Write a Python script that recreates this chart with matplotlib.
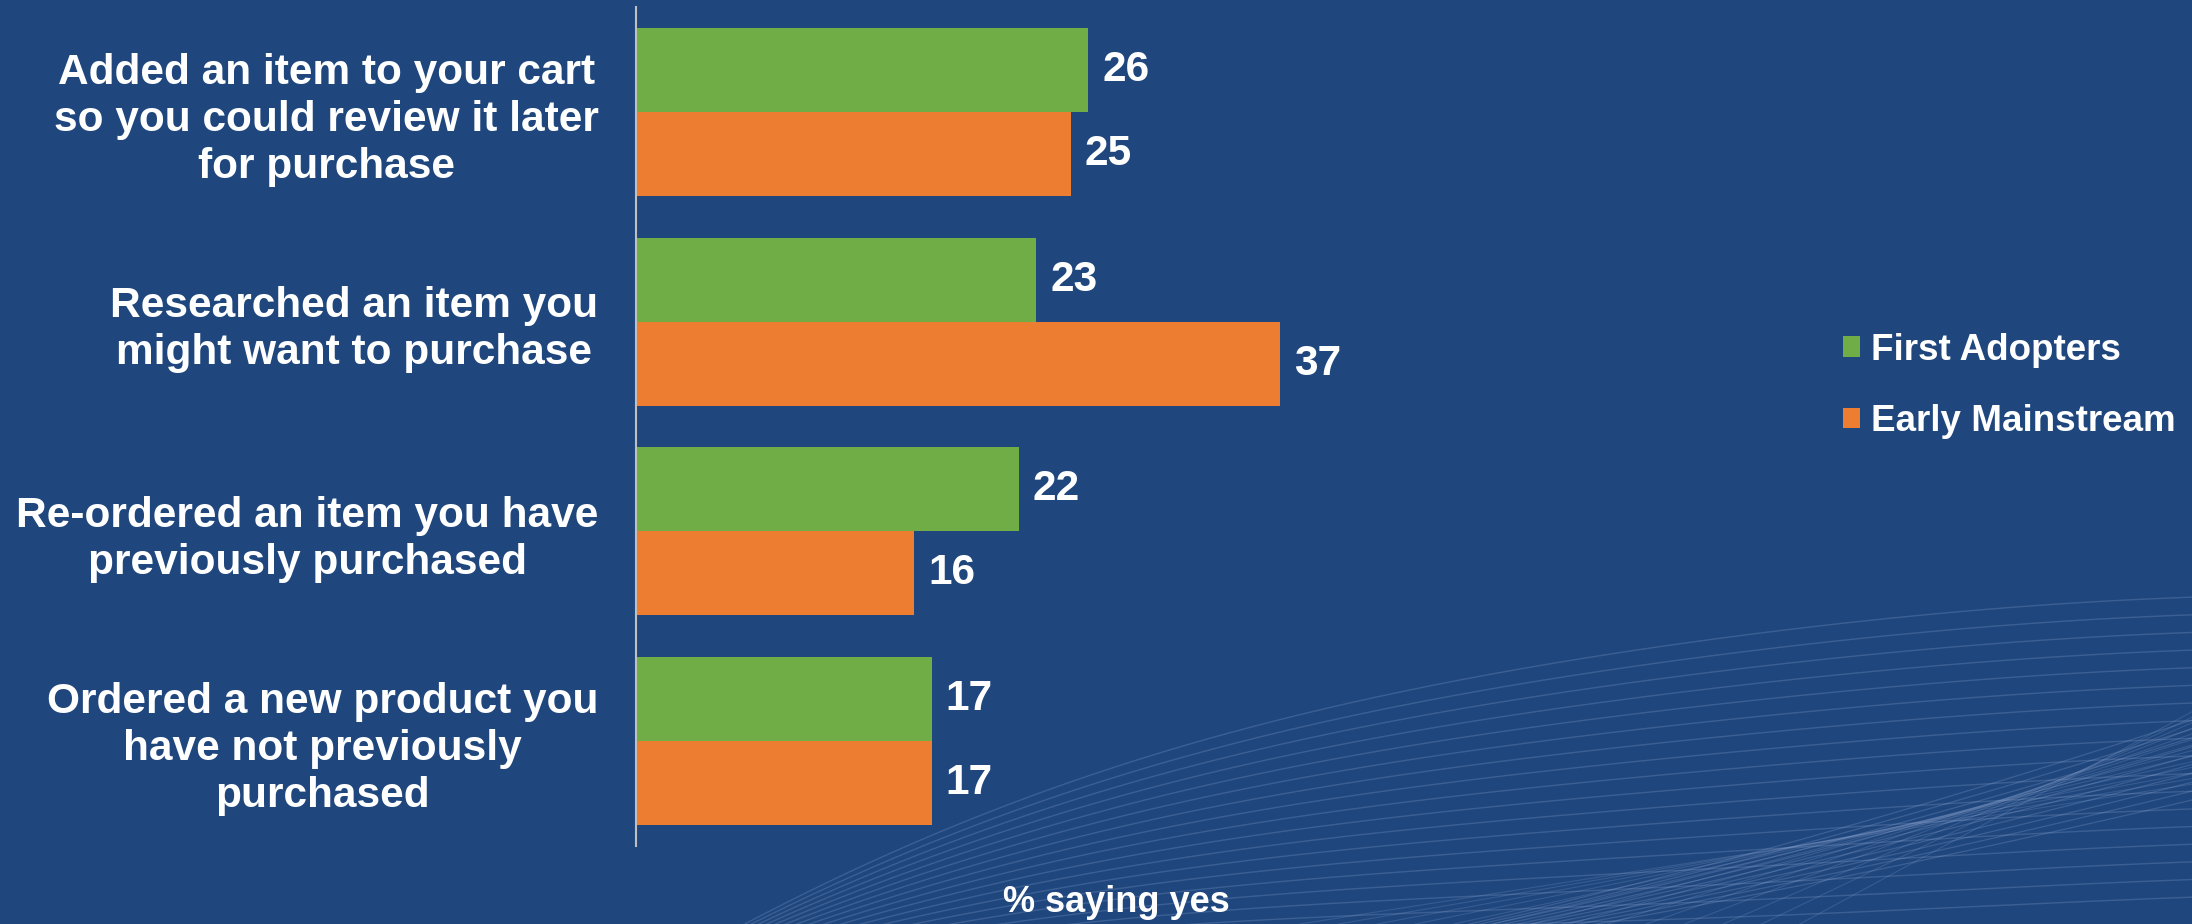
import numpy as np
import matplotlib
matplotlib.use('Agg')
import matplotlib.pyplot as plt
from matplotlib.patches import Patch

categories = [
    'Added an item to your cart\nso you could review it later\nfor purchase',
    'Researched an item you\nmight want to purchase',
    'Re-ordered an item you have\npreviously purchased',
    'Ordered a new product you\nhave not previously\npurchased',
]
first_adopters = [26, 23, 22, 17]
early_mainstream = [25, 37, 16, 17]
series_names = ['First Adopters', 'Early Mainstream']

BG = '#1f477e'
GREEN = '#70ad47'
ORANGE = '#ed7d31'

plt.rcParams['font.family'] = ['Liberation Sans', 'DejaVu Sans']
plt.rcParams['font.weight'] = 'bold'

fig = plt.figure(figsize=(21.92, 9.24), dpi=100)
fig.patch.set_facecolor(BG)

# decorative background curves (pixel coords, y down)
bg = fig.add_axes([0, 0, 1, 1], zorder=0)
bg.set_xlim(0, 2192)
bg.set_ylim(924, 0)
bg.axis('off')
x = np.linspace(500, 2192, 400)
s = np.clip((x - 600) / 1592, 0, 1)
for yr in np.linspace(600, 900, 18):
    y = 1010 - (1010 - yr) * (1 - (1 - s) ** 2.2) + 10 * np.sin((x - 1300) / 260)
    bg.plot(x, y, color='#a5b8e0', lw=1.0, alpha=0.22)
x2 = np.linspace(1000, 2192, 300)
for yr in np.linspace(720, 800, 10):
    t = (x2 - 1000) / 1192
    y = 1000 - (1000 - yr) * t ** 1.4
    bg.plot(x2, y, color='#a5b8e0', lw=0.9, alpha=0.22)
for k, x0 in enumerate(np.linspace(1300, 1800, 14)):
    xs = np.linspace(x0, 2192, 100)
    y = 924 - (xs - x0) * (140 / (2192 - x0 + 1)) * (1 + 0.04 * k)
    bg.plot(xs, y, color='#a5b8e0', lw=0.8, alpha=0.18)

W, H = 2192, 924
ax = fig.add_axes([636 / W, 1 - 846 / H, (1750 - 636) / W, (846 - 7) / H], zorder=1)
ax.set_facecolor('none')

pos = np.arange(len(categories))
bh = 0.4
b1 = ax.barh(pos - bh / 2, first_adopters, height=bh, color=GREEN)
b2 = ax.barh(pos + bh / 2, early_mainstream, height=bh, color=ORANGE)
ax.bar_label(b1, padding=10, color='white', fontsize=30.5, fontweight='bold')
ax.bar_label(b2, padding=10, color='white', fontsize=30.5, fontweight='bold')

ax.set_xlim(0, (1750 - 636) / 17.4)
ax.set_ylim(len(categories) - 0.5, -0.5)
ax.set_yticks(pos)
ax.set_yticklabels(categories, fontsize=30.5, fontweight='bold', color='white',
                   ha='right', multialignment='center', linespacing=1.22)
ax.tick_params(axis='y', length=0, pad=27)
ax.set_xticks([])
for side in ['top', 'right', 'bottom']:
    ax.spines[side].set_visible(False)
ax.spines['left'].set_color('#bfbfbf')
ax.spines['left'].set_linewidth(1.5)

fig.text(1116 / W, 1 - 903 / H, '% saying yes', color='white', fontsize=26,
         fontweight='bold', ha='center', va='center')

handles = [Patch(facecolor=GREEN), Patch(facecolor=ORANGE)]
fig.legend(handles, series_names, loc='center left',
           bbox_to_anchor=(1843 / W, 1 - 386 / H), frameon=False,
           labelcolor='white', handlelength=0.46,
           handleheight=0.46, handletextpad=0.3, labelspacing=1.0,
           borderpad=0, borderaxespad=0, prop={'weight': 'bold', 'size': 26.5})

fig.savefig('out.png', dpi=100, facecolor=BG)
